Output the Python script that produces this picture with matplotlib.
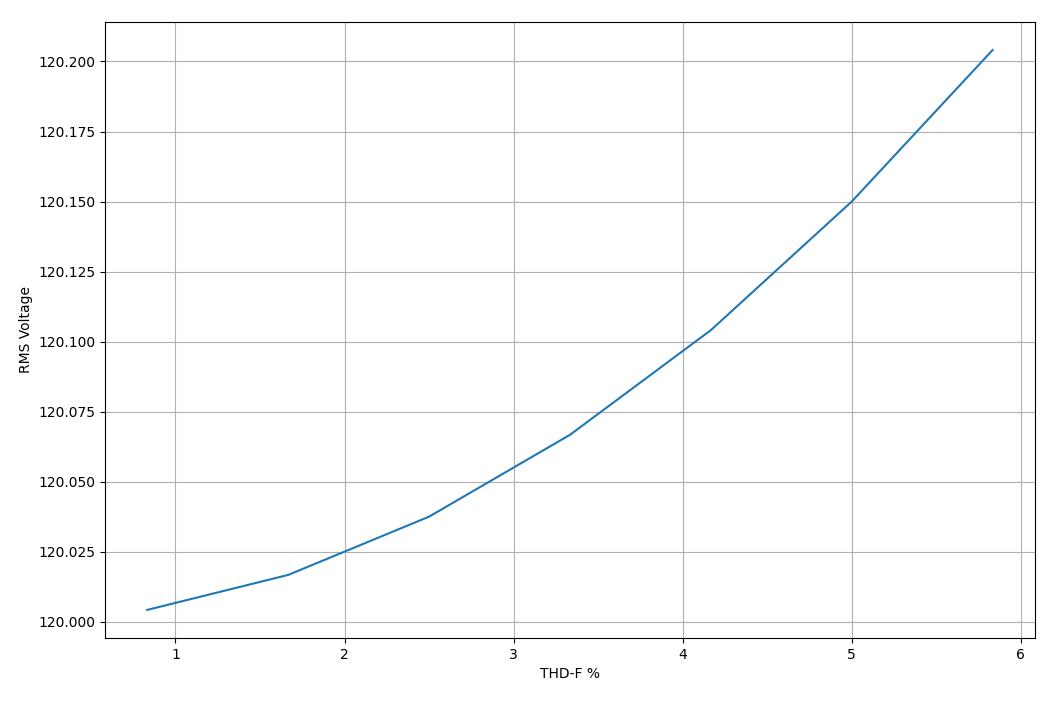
import matplotlib
matplotlib.use("Agg")
import matplotlib.pyplot as plt

thd_percent = [0.833, 1.667, 2.5, 3.333, 4.167, 5.0, 5.833]
rms_voltage = [120.0042, 120.0167, 120.0375, 120.0667, 120.1041, 120.1500, 120.2041]

fig, ax = plt.subplots(figsize=(10.56, 7.01), dpi=100)
ax.plot(thd_percent, rms_voltage)
ax.set_xlabel("THD-F %")
ax.set_ylabel("RMS Voltage")
ax.ticklabel_format(axis="y", useOffset=False)
ax.yaxis.set_major_formatter(matplotlib.ticker.FormatStrFormatter("%.3f"))
ax.grid(True)
fig.subplots_adjust(left=0.0994, right=0.980, top=0.9686, bottom=0.090)
fig.savefig("out.png")
